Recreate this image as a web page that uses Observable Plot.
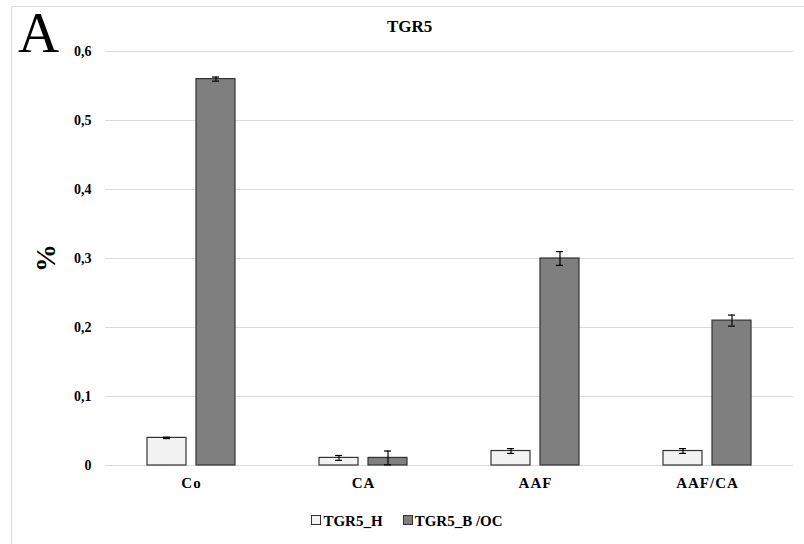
<!DOCTYPE html>
<html>
<head>
<meta charset="utf-8">
<script src="https://cdn.jsdelivr.net/npm/d3@7"></script>
<script src="https://cdn.jsdelivr.net/npm/@observablehq/plot@0.6"></script>
<style>
  body { margin: 0; width: 804px; height: 544px; overflow: hidden; background: #fff; position: relative; font-family: "Liberation Serif", "Times New Roman", Times, "DejaVu Serif", serif; }
  #frame { position: absolute; left: 11px; top: 6px; width: 900px; height: 700px; border: 1px solid #d9d9d9; pointer-events: none; }
  #chart { position: absolute; left: 0; top: 0; }
  #chart svg, #chart svg text { font-family: "Liberation Serif", "Times New Roman", Times, "DejaVu Serif", serif !important; font-weight: bold; fill: #000; }
  #chart svg [aria-label^="y-axis"] text { font-size: 14px; }
  #chart svg [aria-label^="fx-axis"] text { font-size: 15px; letter-spacing: 1px; }
  .lbl { position: absolute; font-weight: bold; color: #000; white-space: nowrap; }
  #letter { left: 18px; top: 4px; font-size: 57px; font-weight: normal; line-height: 1; }
  #title { left: 387px; top: 17px; font-size: 17px; }
  #ylab { left: 46px; top: 258px; font-size: 28px; transform: translate(-50%, -50%) rotate(-90deg); }
  #legend { left: 0; width: 804px; top: 513px; text-align: center; font-size: 15px; padding-left: 10px; box-sizing: border-box; }
  .sw { display: inline-block; width: 8px; height: 8px; border: 1px solid #333; margin-right: 2px; vertical-align: 1px; }
</style>
</head>
<body>
<div id="chart"></div>
<div id="frame"></div>
<div class="lbl" id="letter">A</div>
<div class="lbl" id="title">TGR5</div>
<div class="lbl" id="ylab">%</div>
<div class="lbl" id="legend"></div>
<script>
const categories = ["Co", "CA", "AAF", "AAF/CA"];
const series = ["TGR5_H", "TGR5_B /OC"];
const valuesH = [0.04, 0.011, 0.021, 0.021];
const errorsH = [0.001, 0.0035, 0.0035, 0.0035];
const valuesB = [0.56, 0.011, 0.30, 0.21];
const errorsB = [0.003, 0.01, 0.01, 0.008];
const yTicks = [0, 0.1, 0.2, 0.3, 0.4, 0.5, 0.6];
const seriesColors = ["#f2f2f2", "#7f7f7f"];

const data = [];
categories.forEach((c, i) => {
  data.push({category: c, series: series[0], value: valuesH[i], err: errorsH[i]});
  data.push({category: c, series: series[1], value: valuesB[i], err: errorsB[i]});
});

const fmt = d => d === 0 ? "0" : d3.format(".1f")(d).replace(".", ",");

const chart = Plot.plot({
  width: 804,
  height: 500,
  marginLeft: 104,
  marginRight: 11,
  marginTop: 51,
  marginBottom: 35,
  style: {background: "transparent", overflow: "visible", fontFamily: "'Liberation Serif', 'Times New Roman', serif"},
  fx: {domain: categories, padding: 0, label: null, axis: "bottom", tickSize: 0, tickPadding: 12},
  x: {domain: series, paddingInner: 0.2, paddingOuter: 0.8375, axis: null},
  y: {domain: [0, 0.6], ticks: yTicks, tickFormat: fmt, tickSize: 0, tickPadding: 14, label: null},
  color: {domain: series, range: seriesColors},
  marks: [
    Plot.ruleY(yTicks, {stroke: "#d9d9d9", strokeWidth: 1.2}),
    Plot.barY(data, {fx: "category", x: "series", y: "value", fill: "series", stroke: "#333", strokeWidth: 1.2}),
    Plot.ruleX(data, {fx: "category", x: "series", y1: d => Math.max(0, d.value - d.err), y2: d => d.value + d.err, stroke: "#000", strokeWidth: 1.2}),
    Plot.tickY(data, {fx: "category", x: "series", y: d => d.value + d.err, stroke: "#000", strokeWidth: 1.2, insetLeft: 16, insetRight: 16}),
    Plot.tickY(data.filter(d => d.value - d.err > 0), {fx: "category", x: "series", y: d => d.value - d.err, stroke: "#000", strokeWidth: 1.2, insetLeft: 16, insetRight: 16})
  ]
});
document.getElementById("chart").appendChild(chart);

const legend = document.getElementById("legend");
series.forEach((s, i) => {
  const item = document.createElement("span");
  item.style.marginRight = i === 0 ? "20px" : "0";
  const sw = document.createElement("span");
  sw.className = "sw";
  sw.style.background = seriesColors[i];
  item.appendChild(sw);
  item.appendChild(document.createTextNode(s));
  legend.appendChild(item);
});
</script>
</body>
</html>
